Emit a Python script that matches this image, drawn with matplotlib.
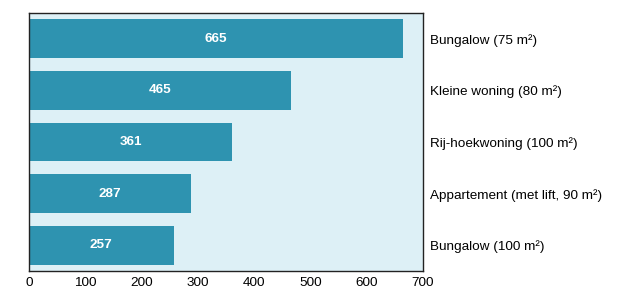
import matplotlib
matplotlib.use("Agg")
import matplotlib.pyplot as plt

categories = ["Bungalow (75 m²)", "Kleine woning (80 m²)", "Rij-hoekwoning (100 m²)",
              "Appartement (met lift, 90 m²)", "Bungalow (100 m²)"]
values = [665, 465, 361, 287, 257]
xticks = [0, 100, 200, 300, 400, 500, 600, 700]

plt.rcParams['font.family'] = ['Liberation Sans', 'DejaVu Sans']
fig = plt.figure(figsize=(6.2, 2.9), dpi=100)
ax = fig.add_axes([29/620, 1-271/290, (423-29)/620, (271-13)/290])
ax.set_facecolor('#ddf0f6')
ypos = list(range(len(categories)))
bars = ax.barh(ypos, values, height=0.75, color='#2e93b0')
for y, v in zip(ypos, values):
    ax.text(v/2, y, str(v), ha='center', va='center', color='white',
            fontweight='bold', fontsize=9.7)
ax.set_xlim(0, 700)
ax.set_ylim(len(categories)-0.5, -0.5)
ax.set_xticks(xticks)
ax.set_yticks(ypos)
ax.set_yticklabels(categories)
ax.yaxis.tick_right()
ax.tick_params(axis='both', length=0, labelsize=9.7, colors='black')
ax.tick_params(axis='y', pad=5)
ax.tick_params(axis='x', pad=4)
for s in ax.spines.values():
    s.set_color('#222222')
    s.set_linewidth(1)
fig.savefig('out.png', dpi=100)
